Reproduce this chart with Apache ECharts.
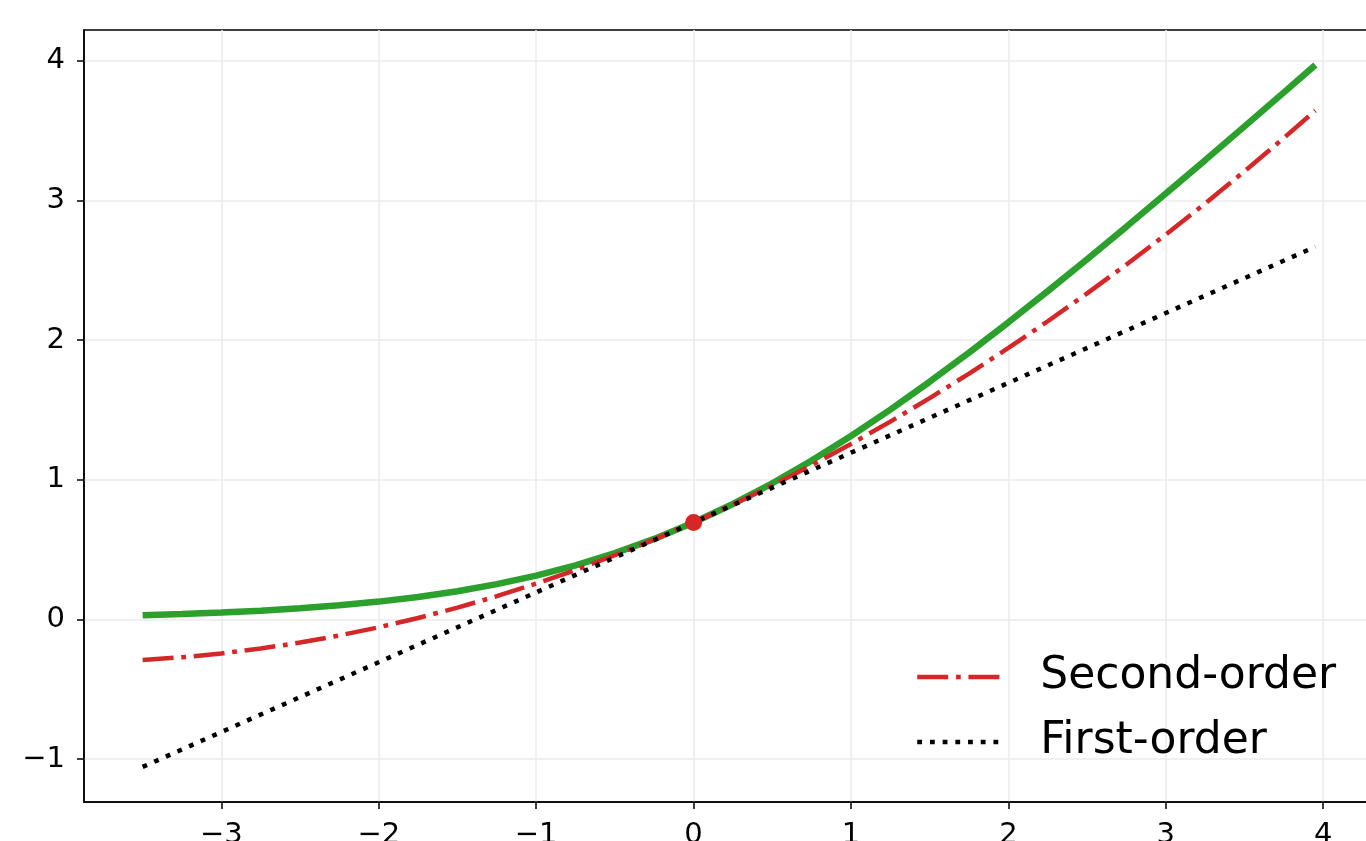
<!DOCTYPE html>
<html>
<head>
<meta charset="utf-8">
<script src="https://cdn.jsdelivr.net/npm/echarts@6/dist/echarts.min.js"></script>
<style>html,body{margin:0;padding:0;background:#fff;}#chart{width:1366px;height:841px;}</style>
</head>
<body>
<div id="chart"></div>
<script>
// x samples
const xs = [-3.5,-3.25,-3.0,-2.75,-2.5,-2.25,-2.0,-1.75,-1.5,-1.25,-1.0,-0.75,-0.5,-0.25,0,0.25,0.5,0.75,1.0,1.25,1.5,1.75,2.0,2.25,2.5,2.75,3.0,3.25,3.5,3.75,3.95];
// green curve values
const curveVals = [0.02975,0.03804,0.04859,0.06197,0.07889,0.10024,0.12693,0.16024,0.20141,0.25193,0.31326,0.38687,0.47408,0.57604,0.69315,0.82604,0.97408,1.13687,1.31326,1.50193,1.70141,1.91024,2.12693,2.35024,2.57889,2.81197,3.04859,3.28804,3.52975,3.77325,3.96907];
// second-order values
const secondVals = [-0.29123,-0.27170,-0.24435,-0.20920,-0.16623,-0.11545,-0.05685,0.00955,0.08377,0.16580,0.25565,0.35330,0.45877,0.57205,0.69315,0.82205,0.95877,1.10330,1.25565,1.41580,1.58377,1.75955,1.94315,2.13455,2.33377,2.54080,2.75565,2.97830,3.20877,3.44705,3.64330];
// first-order endpoints
const firstX = [-3.5, 3.95];
const firstVals = [-1.05685, 2.66815];
// expansion point
const pointX = [0];
const pointY = [0.69315];
const xTicks = [-3,-2,-1,0,1,2,3,4];
const yTicks = [-1,0,1,2,3,4];

const zip = (a,b) => a.map((v,i)=>[v,b[i]]);
const fmt = v => String(v).replace('-', '\u2212');
const font = 'DejaVu Sans';

const chart = echarts.init(document.getElementById('chart'));
chart.setOption({
  animation: false,
  backgroundColor: '#fff',
  grid: {left: 84, top: 30, width: 1290, height: 772, show: true, borderColor: '#000', borderWidth: 1.5,
         backgroundColor: 'transparent', containLabel: false, outerBoundsMode: 'none'},
  xAxis: {
    type: 'value', min: -3.8725, max: 4.3225,
    axisLine: {show: true, onZero: false, lineStyle: {color: '#000', width: 1.5}},
    axisTick: {show: true, length: 7, customValues: xTicks, lineStyle: {color: '#000', width: 1.5}},
    axisLabel: {customValues: xTicks, formatter: fmt, color: '#000', fontFamily: font, fontSize: 29, margin: 19, hideOverlap: false},
    splitLine: {show: true, lineStyle: {color: '#ebebeb', width: 1.5}}
  },
  yAxis: {
    type: 'value', min: -1.308, max: 4.22,
    axisLine: {show: true, onZero: false, lineStyle: {color: '#000', width: 1.5}},
    axisTick: {show: true, length: 7, customValues: yTicks, lineStyle: {color: '#000', width: 1.5}},
    axisLabel: {customValues: yTicks, formatter: fmt, color: '#000', fontFamily: font, fontSize: 29, margin: 19},
    splitLine: {show: true, lineStyle: {color: '#ebebeb', width: 1.5}}
  },
  legend: {
    orient: 'vertical', left: 915, top: 652, padding: 0,
    data: ['Second-order', 'First-order'],
    itemWidth: 83, itemHeight: 20, itemGap: 15,
    itemStyle: {color: 'transparent', borderWidth: 0, opacity: 0},
    lineStyle: {width: 4.5},
    textStyle: {fontFamily: font, fontSize: 44, color: '#000', lineHeight: 50, padding: [0,0,0,35]}
  },
  series: [
    {name: 'Softplus', type: 'line', data: zip(xs, curveVals), showSymbol: false, symbol: 'none', smooth: false,
     lineStyle: {color: '#2ca02c', width: 6.5}, z: 2},
    {name: 'Second-order', type: 'line', data: zip(xs, secondVals), showSymbol: false, symbol: 'none',
     itemStyle: {color: '#d62728'},
     lineStyle: {color: '#d62728', width: 4.5, type: [31, 7.7, 4.8, 7.7], cap: 'butt'}, z: 3},
    {name: 'First-order', type: 'line', data: zip(firstX, firstVals), showSymbol: false, symbol: 'none',
     itemStyle: {color: '#000'},
     lineStyle: {color: '#000', width: 4.5, type: [4.8, 7.9], cap: 'butt'}, z: 4},
    {name: 'Point', type: 'scatter', data: zip(pointX, pointY), symbolSize: 17,
     itemStyle: {color: '#d62728', opacity: 1}, z: 5}
  ]
});
</script>
</body>
</html>
